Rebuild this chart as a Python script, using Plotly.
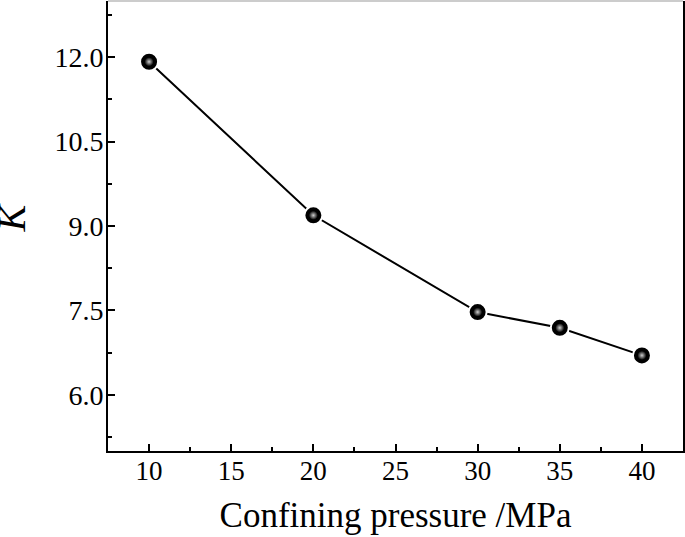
import plotly.graph_objects as go

pressure = [10, 20, 30, 35, 40]
k_values = [11.92, 9.19, 7.47, 7.19, 6.70]
x_ticks = [10, 15, 20, 25, 30, 35, 40]
y_ticks = [6.0, 7.5, 9.0, 10.5, 12.0]

FONT = "Liberation Serif, Times New Roman, serif"

fig = go.Figure()
fig.add_trace(go.Scatter(
    x=pressure, y=k_values, mode="lines+markers",
    line=dict(color="black", width=2),
    marker=dict(size=18, color="black",
                line=dict(color="white", width=2)),
    showlegend=False,
))
fig.add_trace(go.Scatter(
    x=pressure, y=k_values, mode="markers",
    marker=dict(size=9, color="black",
                gradient=dict(type="radial", color="#d0d0d0"),
                line=dict(width=0)),
    showlegend=False, hoverinfo="skip",
))

fig.update_layout(
    width=685, height=537,
    margin=dict(l=108, r=2, t=1, b=86),
    paper_bgcolor="white", plot_bgcolor="white",
    font=dict(family=FONT, color="black", size=28),
    shapes=[dict(type="line", xref="paper", yref="paper", x0=0, x1=1, y0=1, y1=1,
                 line=dict(color="#999999", width=1))],
    annotations=[dict(text="<i>K</i>", textangle=-90, xref="paper", yref="paper",
                      x=0, y=0.5, xanchor="right", yanchor="middle",
                      xshift=-73, yshift=8, showarrow=False,
                      font=dict(size=40, family=FONT, color="black"))],
)

fig.update_xaxes(
    range=[7.5, 42.5], tickvals=x_ticks, ticktext=[str(v) for v in x_ticks],
    showline=True, linecolor="black", linewidth=2, mirror=False,
    ticks="inside", ticklen=7, tickwidth=1.5, tickcolor="black",
    minor=dict(ticks="inside", ticklen=4, tickwidth=1.5, tickcolor="black", dtick=2.5, tick0=10),
    showgrid=False, zeroline=False, automargin=False,
    ticklabelstandoff=-5,
    tickfont=dict(size=27),
    title=dict(text="Confining pressure /MPa", font=dict(size=35), standoff=17),
)
fig.update_yaxes(
    range=[5.0, 13.0], tickvals=y_ticks, ticktext=[f"{v:.1f}" for v in y_ticks],
    showline=True, linecolor="black", linewidth=2, mirror=True,
    ticks="inside", ticklen=7, tickwidth=1.5, tickcolor="black",
    minor=dict(ticks="inside", ticklen=4, tickwidth=1.5, tickcolor="black", dtick=0.75, tick0=6.0),
    showgrid=False, zeroline=False, automargin=False,
    ticklabelstandoff=-3,
    tickfont=dict(size=28),
)

fig.write_html(
    "out.html",
    config={"displayModeBar": False},
    post_script="document.body.style.margin='0';document.body.style.overflow='hidden';",
)
